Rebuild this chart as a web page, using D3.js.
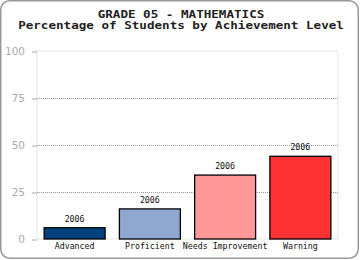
<!DOCTYPE html>
<html>
<head>
<meta charset="utf-8">
<script src="https://cdn.jsdelivr.net/npm/d3@7"></script>
<style>
  body { margin: 0; background: #fff; }
  svg { display: block; }
</style>
</head>
<body>
<div id="chart"></div>
<script>
var titleLines = ['GRADE 05 - MATHEMATICS', 'Percentage of Students by Achievement Level']
var levels = ['Advanced', 'Proficient', 'Needs Improvement', 'Warning']
var percents = [6, 16, 34, 44]
var barLabels = ['2006', '2006', '2006', '2006']
var colors = ['#00407f', '#90a8d0', '#ff9999', '#ff3333']
var yTicks = [0, 25, 50, 75, 100]

var width = 360
var height = 260
var mono = '"DejaVu Sans Mono", monospace'

var svg = d3.select('#chart').append('svg')
  .attr('width', width)
  .attr('height', height)

// outer frame
svg.append('rect')
  .attr('x', 0.75).attr('y', 0.75)
  .attr('width', width - 2.5).attr('height', height - 2.5)
  .attr('rx', 9)
  .attr('fill', '#fff')
  .attr('stroke', '#9a9a9a')
  .attr('stroke-width', 1.5)

// wide, short title type: small font stretched horizontally
svg.selectAll('text.title')
  .data(titleLines)
  .join('text')
  .attr('class', 'title')
  .attr('transform', (d, i) => `translate(181,${17.5 + i * 11.2}) scale(1.26,1)`)
  .attr('text-anchor', 'middle')
  .attr('font-family', mono)
  .attr('font-weight', 'bold')
  .attr('font-size', '10px')
  .attr('fill', '#222')
  .text(d => d)

var x = d3.scaleBand()
  .domain(levels)
  .range([37, 338])
  .paddingInner(0.19)
  .paddingOuter(0.095)

var y = d3.scaleLinear()
  .domain([0, 100])
  .range([239, 51])

// plot area
svg.append('rect')
  .attr('x', 37).attr('y', 51)
  .attr('width', 301).attr('height', 188)
  .attr('fill', '#fff')
  .attr('stroke', '#e6e6e6')

// dotted gridlines
svg.selectAll('line.grid')
  .data(yTicks.filter(d => d > 0 && d < 100))
  .join('line')
  .attr('class', 'grid')
  .attr('x1', 37).attr('x2', 338)
  .attr('y1', d => Math.round(y(d)) + 0.5)
  .attr('y2', d => Math.round(y(d)) + 0.5)
  .attr('stroke', '#999')
  .attr('stroke-dasharray', '1,1')

// y axis
var yAxis = svg.append('g')
  .attr('transform', 'translate(37,0.5)')
  .call(d3.axisLeft(y).tickValues(yTicks).tickSize(5).tickPadding(7))
yAxis.select('.domain').remove()
yAxis.selectAll('line').attr('stroke', '#aaa')
yAxis.selectAll('text')
  .attr('fill', '#aaa')
  .attr('font-family', '"DejaVu Sans", sans-serif')
  .attr('font-size', '10.5px')

var rows = levels.map((d, i) => ({level: d, value: percents[i], label: barLabels[i], color: colors[i]}))

svg.selectAll('rect.bar')
  .data(rows)
  .join('rect')
  .attr('class', 'bar')
  .attr('x', d => x(d.level))
  .attr('y', d => y(d.value))
  .attr('width', x.bandwidth())
  .attr('height', d => y(0) - y(d.value))
  .attr('fill', d => d.color)
  .attr('stroke', '#000')
  .attr('stroke-width', 1.3)

svg.selectAll('text.val')
  .data(rows)
  .join('text')
  .attr('class', 'val')
  .attr('x', d => x(d.level) + x.bandwidth() / 2)
  .attr('y', d => y(d.value) - 6)
  .attr('text-anchor', 'middle')
  .attr('font-family', mono)
  .attr('font-size', '8.3px')
  .attr('fill', '#111')
  .text(d => d.label)

svg.selectAll('text.cat')
  .data(levels)
  .join('text')
  .attr('class', 'cat')
  .attr('x', d => x(d) + x.bandwidth() / 2)
  .attr('y', 249)
  .attr('text-anchor', 'middle')
  .attr('font-family', mono)
  .attr('font-size', '8.3px')
  .attr('fill', '#111')
  .text(d => d)
</script>
</body>
</html>
